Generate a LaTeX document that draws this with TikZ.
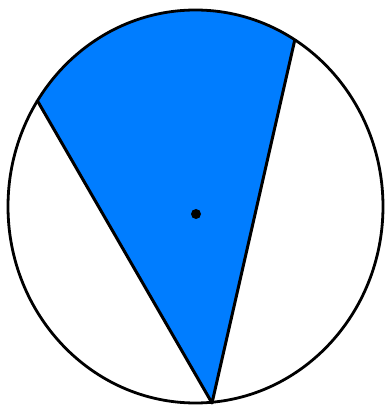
\documentclass[tikz,border=0pt]{standalone}
\definecolor{sectorblue}{RGB}{0,125,255}
\tikzset{outline/.style={line width=3pt,black}, rim/.style={line width=2.8pt,black}}
\begin{document}
\begin{tikzpicture}[x=1pt,y=1pt]
\useasboundingbox (0,0) rectangle (385,407);
\coordinate (c) at (195.5,200.5);
\coordinate (B) at (212,4);
\coordinate (L) at (37,307);
\coordinate (R) at (295,368);
\fill[sectorblue] (B) -- (L) arc[start angle=147.3, end angle=58.1, x radius=187.5, y radius=196.5] -- cycle;
\draw[rim] (c) ellipse[x radius=187.5, y radius=196.5];
\draw[outline,line join=round] (L) -- (B) -- (R);
\fill (196,193) circle[radius=5];
\end{tikzpicture}
\end{document}
